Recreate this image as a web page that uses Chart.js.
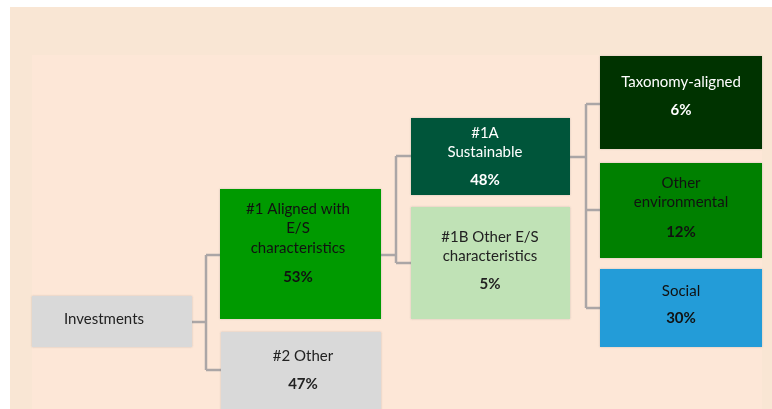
<!DOCTYPE html>
<html>
<head>
<meta charset="utf-8">
<script src="https://cdn.jsdelivr.net/npm/chart.js@4"></script>
<style>
  html, body { margin: 0; padding: 0; background: #ffffff; }
  #wrap { width: 772px; height: 409px; }
</style>
</head>
<body>
<div id="wrap"><canvas id="tree"></canvas></div>
<script>
// Asset allocation tree
const nodeLabels = [
  ["Investments"],
  ["#1 Aligned with", "E/S", "characteristics"],
  ["#2 Other"],
  ["#1A", "Sustainable"],
  ["#1B Other E/S", "characteristics"],
  ["Taxonomy-aligned"],
  ["Other", "environmental"],
  ["Social"],
];
const nodeValues = [null, 53, 47, 48, 5, 6, 12, 30];
const nodeParents = [null, 0, 0, 1, 1, 3, 3, 3];
const nodeColors = ["#d9d9d9", "#009a00", "#d9d9d9", "#00553a", "#c0e2b6", "#003300", "#008000", "#239cd8"];
const textColors = ["#222", "#111", "#222", "#fff", "#222", "#fff", "#111", "#111"];

// box geometry in chart units: [x0, x1, y0, y1]
const boxes = [
  [32, 192, 296, 347],
  [220, 381, 189, 319],
  [221, 381, 332, 412],
  [411, 570, 118, 195],
  [411, 570, 207, 319],
  [600, 762, 56, 149],
  [600, 762, 163, 258],
  [600, 762, 269, 347],
];
// text x, first line y, percent y
const textPos = [
  [104, 319, null],
  [298, 209, 277],
  [303, 356, 384],
  [485, 133, 180],
  [490, 237, 284],
  [681, 82, 110],
  [681, 183, 232],
  [681, 291, 318],
];
// elbow connectors: parent node, vertical x, y leaving parent, y entering each child
const connectors = [
  { parent: 0, x: 206, fromY: 322, childY: [255, 370] },
  { parent: 1, x: 396, fromY: 255, childY: [156, 263] },
  { parent: 3, x: 586, fromY: 157, childY: [104, 210, 308] },
];
const lineH = 19.5;

const treePlugin = {
  id: "tree",
  beforeDraw(chart) {
    const { ctx, scales: { x, y } } = chart;
    const rect = (x0, x1, y0, y1, c) => {
      const px = x.getPixelForValue(x0), py = y.getPixelForValue(y0);
      ctx.fillStyle = c;
      ctx.fillRect(px, py, x.getPixelForValue(x1) - px, y.getPixelForValue(y1) - py);
    };
    ctx.save();
    rect(10, 772, 7, 409, "#f9e6d4");
    rect(32, 762, 55, 409, "#fde7d7");
    ctx.restore();
  },
  afterDatasetsDraw(chart) {
    const { ctx, scales: { x, y } } = chart;
    const X = (v) => x.getPixelForValue(v);
    const Y = (v) => y.getPixelForValue(v);
    ctx.save();
    // connectors
    ctx.strokeStyle = "#aba6a6";
    ctx.lineWidth = 2.5;
    connectors.forEach((c) => {
      const children = nodeParents.map((p, i) => (p === c.parent ? i : -1)).filter((i) => i >= 0);
      ctx.beginPath();
      ctx.moveTo(X(boxes[c.parent][1]), Y(c.fromY));
      ctx.lineTo(X(c.x), Y(c.fromY));
      ctx.moveTo(X(c.x), Y(Math.min(...c.childY)));
      ctx.lineTo(X(c.x), Y(Math.max(...c.childY)));
      children.forEach((ci, j) => {
        ctx.moveTo(X(c.x), Y(c.childY[j]));
        ctx.lineTo(X(boxes[ci][0]), Y(c.childY[j]));
      });
      ctx.stroke();
    });
    // boxes
    ctx.shadowColor = "rgba(120,120,120,0.35)";
    ctx.shadowBlur = 2;
    boxes.forEach((b, i) => {
      ctx.fillStyle = nodeColors[i];
      ctx.fillRect(X(b[0]), Y(b[2]), X(b[1]) - X(b[0]), Y(b[3]) - Y(b[2]));
    });
    ctx.shadowBlur = 0;
    // labels
    ctx.textAlign = "center";
    ctx.textBaseline = "middle";
    nodeLabels.forEach((lines, i) => {
      const t = textPos[i];
      ctx.fillStyle = textColors[i];
      ctx.font = "15px Lato";
      lines.forEach((s, l) => ctx.fillText(s, X(t[0]), Y(t[1] + l * lineH)));
      if (nodeValues[i] !== null) {
        ctx.font = "bold 15px Lato";
        ctx.fillText(nodeValues[i] + "%", X(t[0]), Y(t[2]));
      }
    });
    ctx.restore();
  },
};

new Chart(document.getElementById("tree").getContext("2d"), {
  type: "scatter",
  data: { datasets: [{ data: [] }] },
  options: {
    responsive: true,
    maintainAspectRatio: false,
    animation: false,
    layout: { padding: 0 },
    plugins: { legend: { display: false }, tooltip: { enabled: false } },
    scales: {
      x: { type: "linear", min: 0, max: 772, display: false },
      y: { type: "linear", min: 0, max: 409, reverse: true, display: false },
    },
  },
  plugins: [treePlugin],
});
</script>
</body>
</html>
